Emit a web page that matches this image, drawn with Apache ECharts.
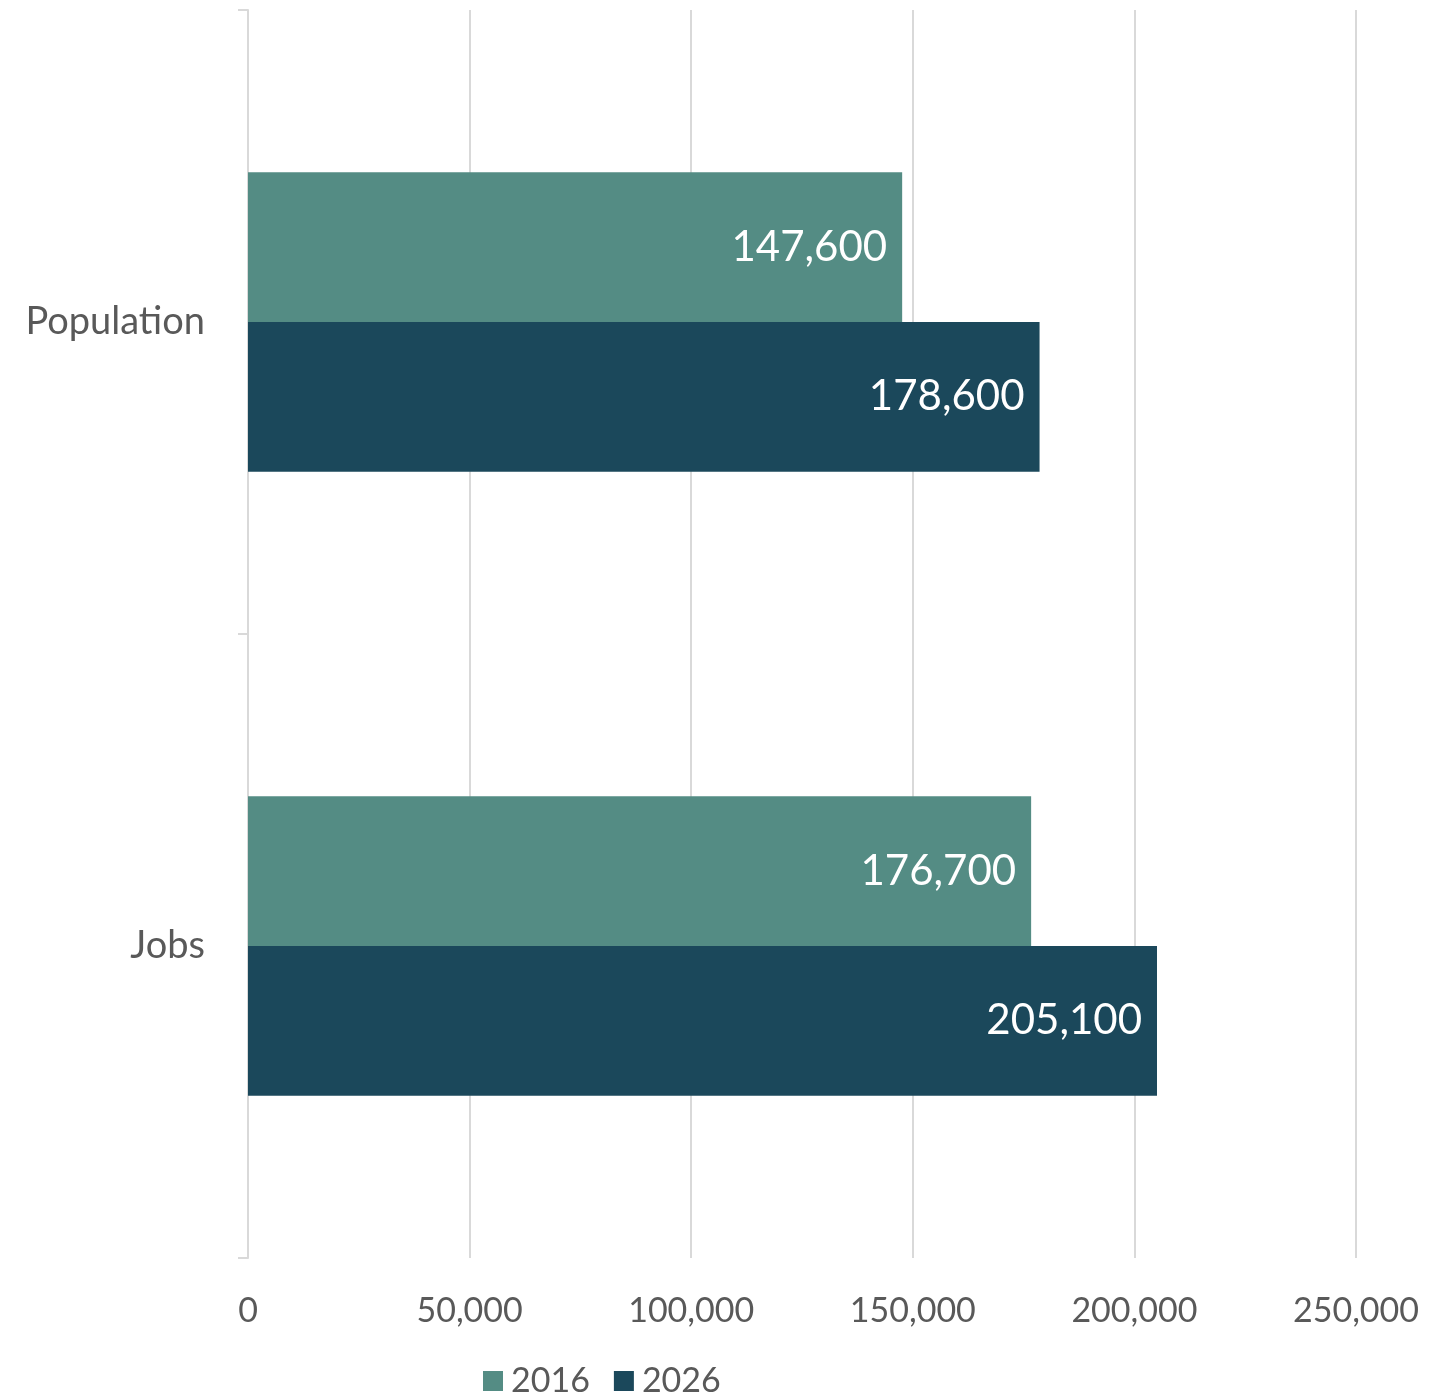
<!DOCTYPE html>
<html>
<head>
<meta charset="utf-8">
<script src="https://cdn.jsdelivr.net/npm/echarts@6/dist/echarts.min.js"></script>
<style>
  html, body { margin: 0; padding: 0; background: #ffffff; }
  #chart { width: 1429px; height: 1393px; }
</style>
</head>
<body>
<div id="chart"></div>
<script>
// Categories and yearly totals
const categories = ['Population', 'Jobs'];
const values2016 = [147600, 176700];
const values2026 = [178600, 205100];
const years = ['2016', '2026'];
const axisTicks = [0, 50000, 100000, 150000, 200000, 250000];

const FONT = 'Lato, "Open Sans", sans-serif';
const fmt = v => v.toLocaleString('en-US');

const chart = echarts.init(document.getElementById('chart'), null, { renderer: 'canvas' });

const labelStyle = {
  show: true,
  position: 'insideRight',
  distance: 15,
  color: '#ffffff',
  fontFamily: FONT,
  fontSize: 42,
  formatter: p => fmt(p.value)
};

chart.setOption({
  animation: false,
  backgroundColor: '#ffffff',
  grid: { left: 248, right: 73, top: 10, bottom: 135, containLabel: false },
  legend: {
    data: years,
    left: 478,
    top: 1359,
    itemWidth: 20,
    itemHeight: 20,
    itemGap: 24,
    icon: 'rect',
    textStyle: { fontFamily: FONT, fontSize: 34, color: '#595959', padding: [0, 0, 0, 3] }
  },
  xAxis: {
    type: 'value',
    min: axisTicks[0],
    max: axisTicks[axisTicks.length - 1],
    interval: axisTicks[1] - axisTicks[0],
    axisLine: { show: false },
    axisTick: { show: false },
    splitLine: { show: true, lineStyle: { color: '#d9d9d9', width: 2 } },
    axisLabel: {
      margin: 36,
      fontFamily: FONT,
      fontSize: 34,
      color: '#595959',
      formatter: v => fmt(v)
    }
  },
  yAxis: {
    type: 'category',
    data: categories,
    inverse: true,
    axisLine: { show: true, lineStyle: { color: '#d9d9d9', width: 2 } },
    axisTick: { show: true, length: 10, lineStyle: { color: '#d9d9d9', width: 2 } },
    axisLabel: {
      margin: 43,
      fontFamily: FONT,
      fontSize: 38,
      color: '#595959'
    }
  },
  series: [
    {
      name: years[0],
      type: 'bar',
      data: values2016,
      barGap: '0%',
      barCategoryGap: '52%',
      itemStyle: { color: '#548C84' },
      label: labelStyle
    },
    {
      name: years[1],
      type: 'bar',
      data: values2026,
      itemStyle: { color: '#1B485B' },
      label: labelStyle
    }
  ]
});
</script>
</body>
</html>
